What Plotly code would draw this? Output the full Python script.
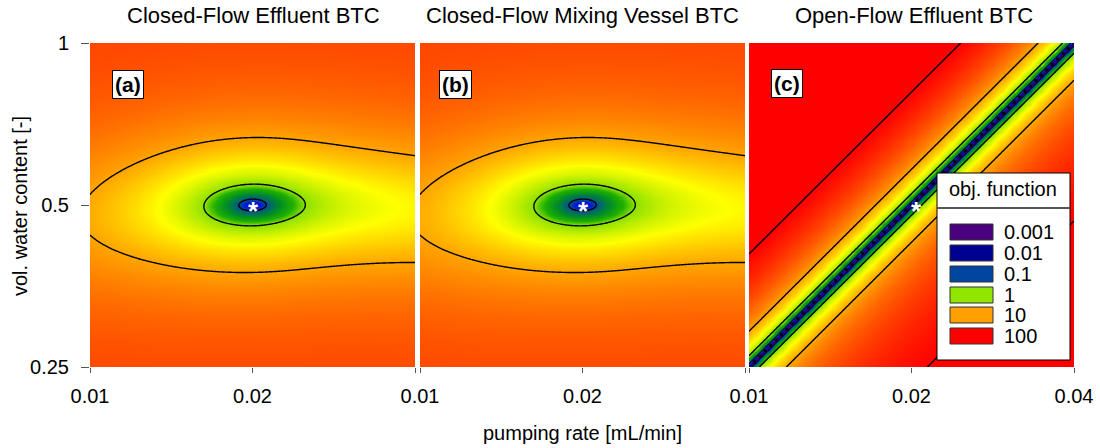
import numpy as np
import plotly.graph_objects as go

# ---------------- data ----------------
x_range = [0.01, 0.04]            # pumping rate [mL/min]
y_range = [0.25, 1.0]             # vol. water content [-]
x_tickvals = [0.01, 0.02, 0.04]
x_ticktext_closed = ["0.01", "0.02", ""]
x_ticktext_open = ["0.01", "0.02", "0.04"]
y_tickvals = [0.25, 0.5, 1.0]
y_ticktext = ["0.25", "0.5", "1"]

panel_titles = ["Closed-Flow Effluent BTC", "Closed-Flow Mixing Vessel BTC", "Open-Flow Effluent BTC"]
panel_labels = ["(a)", "(b)", "(c)"]
best_q = [0.0201, 0.0201, 0.0204]       # best-fit pumping rate (asterisk)
best_theta = [0.5, 0.5, 0.5]            # best-fit water content (asterisk)

# closed-flow surface (a, b): optimum, ellipse half-widths (in octaves), shape
closed_center = [0.02, 0.5]
closed_sx = 0.30
closed_sy = 0.13
closed_bend = [0.0175, -0.0425]
closed_flatten = [0.19, 1.9]
closed_cap = 43.0
closed_min = 0.022

# open-flow surface (c): valley along theta/q = const
open_ratio = 25.0
open_scale_up = 0.021
open_scale_lo = 0.0178
open_flat_lo = 0.135
open_min = 0.001

line_levels_closed = [0.1, 1, 10]
line_levels_open = [1, 10, 100]
valley_band_level = 0.08
chain_level = 0.045

legend_labels = ["0.001", "0.01", "0.1", "1", "10", "100"]
legend_colors = ["#4b007d", "#000091", "#0046a0", "#91e600", "#ffa000", "#ff0000"]

# colour stops: log10(objective) -> colour
color_stops_log = [-3, -2, -1.6, -1.2, -1.0, -0.5, -0.2, 0.0, 0.55, 1.0, 2.0]
color_stops_rgb = ["rgb(75,0,125)", "rgb(0,0,145)", "rgb(0,0,235)", "rgb(0,40,200)",
                   "rgb(0,80,150)", "rgb(0,140,40)", "rgb(30,175,0)", "rgb(140,225,0)",
                   "rgb(255,255,0)", "rgb(255,165,0)", "rgb(255,0,0)"]
zmin, zmax = -3, 2
colorscale = [[(v - zmin) / (zmax - zmin), c] for v, c in zip(color_stops_log, color_stops_rgb)]

# ---------------- surfaces ----------------
lx = np.linspace(np.log10(x_range[0]), np.log10(x_range[1]), 301)
ly = np.linspace(np.log10(y_range[0]), np.log10(y_range[1]), 301)
xg, yg = 10 ** lx, 10 ** ly


def closed_surface(lxv, lyv):
    LX, LY = np.meshgrid(lxv, lyv)
    X = (LX - np.log10(closed_center[0])) / np.log10(2)
    Y = (LY - np.log10(closed_center[1])) / np.log10(2)
    yc = closed_bend[0] * X + closed_bend[1] * X ** 2
    k = np.where(X < 0, closed_flatten[0], closed_flatten[1])
    g = (X / closed_sx) ** 2 / (1 + k * X ** 2)
    q = ((Y - yc) / closed_sy) ** 2 + g
    return closed_min + q / np.sqrt(1 + (q / closed_cap) ** 2)


def open_surface(lxv, lyv):
    LX, LY = np.meshgrid(lxv, lyv)
    u = LY - LX - np.log10(open_ratio)
    up = (u / open_scale_up) ** 2
    lo = (u / open_scale_lo) ** 2 / (1 + np.abs(u) / open_flat_lo)
    return open_min + np.where(u >= 0, up, lo)


fields = [closed_surface(lx, ly), closed_surface(lx, ly), open_surface(lx, ly)]

# coarse grid for the chain artefact along the valley (panel c)
lxc = np.linspace(np.log10(x_range[0]), np.log10(x_range[1]), 61)
lyc = np.linspace(np.log10(y_range[0]), np.log10(y_range[1]), 61)
chain_field = open_surface(lxc, lyc)

fig = go.Figure()

W, H = 1100, 448
xdom = [[90 / W, 415 / W], [420 / W, 745 / W], [749 / W, 1074 / W]]
ydom = [1 - 367 / H, 1 - 43 / H]
font_family = "Liberation Sans, Arial, sans-serif"

for i in range(3):
    xa = "x" if i == 0 else f"x{i+1}"
    ya = "y" if i == 0 else f"y{i+1}"
    fig.add_trace(go.Heatmap(x=xg, y=yg, z=np.log10(fields[i]), colorscale=colorscale,
                             zmin=zmin, zmax=zmax, zsmooth="best", showscale=False,
                             hoverinfo="skip", xaxis=xa, yaxis=ya))
    levels = line_levels_open if i == 2 else line_levels_closed
    lv = np.log10(levels)
    fig.add_trace(go.Contour(x=xg, y=yg, z=np.log10(fields[i]),
                             contours=dict(coloring="none", start=lv[0], end=lv[-1],
                                           size=lv[1] - lv[0]),
                             line=dict(color="black", width=1.4, smoothing=1),
                             showscale=False, hoverinfo="skip", xaxis=xa, yaxis=ya))
    if i == 2:
        fig.add_trace(go.Contour(x=xg, y=yg, z=fields[i],
                                 contours=dict(coloring="none", start=valley_band_level,
                                               end=valley_band_level, size=1),
                                 line=dict(color="#0a0a30", width=1.3, smoothing=1),
                                 showscale=False, hoverinfo="skip", xaxis=xa, yaxis=ya))
        fig.add_trace(go.Contour(x=10 ** lxc, y=10 ** lyc, z=chain_field,
                                 contours=dict(coloring="none", start=chain_level,
                                               end=chain_level, size=1),
                                 line=dict(color="black", width=1.5, smoothing=1.3),
                                 showscale=False, hoverinfo="skip", xaxis=xa, yaxis=ya))

    axis_common = dict(type="log", showgrid=False, zeroline=False, showline=False,
                       automargin=False)
    fig.layout[("xaxis" if i == 0 else f"xaxis{i+1}")] = dict(
        axis_common, domain=xdom[i], anchor=ya,
        range=[np.log10(x_range[0]), np.log10(x_range[1])],
        tickvals=x_tickvals,
        ticktext=x_ticktext_open if i == 2 else x_ticktext_closed,
        ticks="outside", ticklen=5, tickwidth=1, tickcolor="#555",
        tickfont=dict(size=20, color="black", family=font_family),
        ticklabelstandoff=6)
    fig.layout[("yaxis" if i == 0 else f"yaxis{i+1}")] = dict(
        axis_common, domain=ydom, anchor=xa,
        range=[np.log10(y_range[0]), np.log10(y_range[1])],
        tickvals=y_tickvals, ticktext=y_ticktext if i == 0 else ["", "", ""],
        ticks="outside" if i == 0 else "", ticklen=8, tickwidth=1, tickcolor="#555",
        tickfont=dict(size=20, color="black", family=font_family),
        ticklabelstandoff=8)

annotations = []
title_x = [253, 582, 914]
for i in range(3):
    annotations.append(dict(text=panel_titles[i], x=title_x[i] / W, y=1 - 15 / H,
                            xref="paper", yref="paper", showarrow=False,
                            xanchor="center", yanchor="middle",
                            font=dict(size=22, color="black", family=font_family)))
label_pos = [(128, 85), (455, 85), (787, 83)]
for i in range(3):
    annotations.append(dict(text="<b>%s</b>" % panel_labels[i], x=label_pos[i][0] / W,
                            y=1 - label_pos[i][1] / H, xref="paper", yref="paper",
                            showarrow=False, xanchor="center", yanchor="middle",
                            bgcolor="white", bordercolor="black", borderwidth=1, borderpad=2,
                            font=dict(size=21, color="black", family=font_family)))
for i in range(3):
    xa = "x" if i == 0 else f"x{i+1}"
    ya = "y" if i == 0 else f"y{i+1}"
    annotations.append(dict(text="<b>*</b>", x=np.log10(best_q[i]), y=np.log10(best_theta[i]),
                            xref=xa, yref=ya, showarrow=False, xanchor="center",
                            yanchor="middle", yshift=-6,
                            font=dict(size=26, color="white", family=font_family)))

annotations.append(dict(text="pumping rate [mL/min]", x=582 / W, y=1 - 433 / H, xref="paper",
                        yref="paper", showarrow=False, xanchor="center", yanchor="middle",
                        font=dict(size=20, color="black", family=font_family)))
annotations.append(dict(text="vol. water content [-]", x=20 / W, y=1 - 206 / H, xref="paper",
                        yref="paper", showarrow=False, xanchor="center", yanchor="middle",
                        textangle=-90,
                        font=dict(size=20, color="black", family=font_family)))

# legend box
shapes = []
lx0, lx1, ly0, ly1 = 937, 1070, 173, 360
shapes.append(dict(type="rect", xref="paper", yref="paper", x0=lx0 / W, x1=lx1 / W,
                   y0=1 - ly1 / H, y1=1 - ly0 / H, fillcolor="white",
                   line=dict(color="black", width=1), layer="above"))
shapes.append(dict(type="line", xref="paper", yref="paper", x0=lx0 / W, x1=lx1 / W,
                   y0=1 - 208 / H, y1=1 - 208 / H, line=dict(color="#555", width=2),
                   layer="above"))
annotations.append(dict(text="obj. function", x=1003 / W, y=1 - 189 / H, xref="paper",
                        yref="paper", showarrow=False, xanchor="center", yanchor="middle",
                        font=dict(size=20, color="black", family=font_family)))
row_y = [232, 253, 274, 295, 315, 336]
for k, lab in enumerate(legend_labels):
    cy = row_y[k]
    shapes.append(dict(type="rect", xref="paper", yref="paper", x0=950 / W, x1=993 / W,
                       y0=1 - (cy + 8) / H, y1=1 - (cy - 8) / H, fillcolor=legend_colors[k],
                       line=dict(color="#333", width=1), layer="above"))
    annotations.append(dict(text=lab, x=1002 / W, y=1 - cy / H, xref="paper", yref="paper",
                            showarrow=False, xanchor="left", yanchor="middle",
                            font=dict(size=20, color="black", family=font_family)))

fig.update_layout(width=W, height=H, margin=dict(l=0, r=0, t=0, b=0),
                  paper_bgcolor="white", plot_bgcolor="white", showlegend=False,
                  annotations=annotations, shapes=shapes,
                  font=dict(family=font_family))

fig.write_html("out.html")
